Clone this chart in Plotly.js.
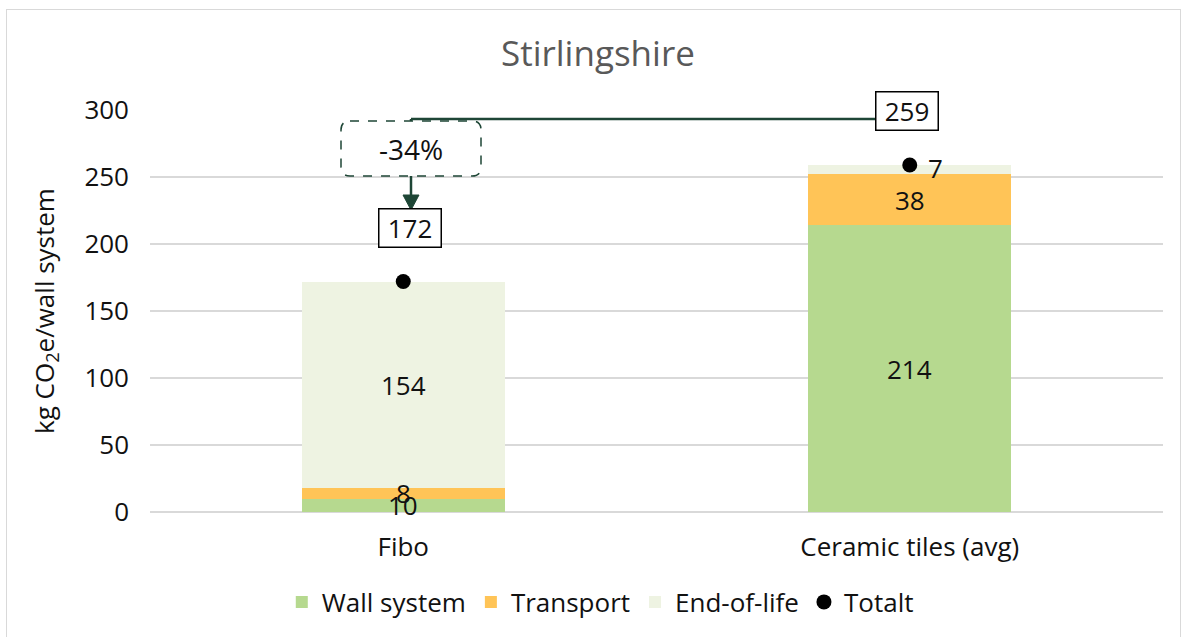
<!DOCTYPE html>
<html>
<head>
<meta charset="utf-8">
<script src="https://cdn.plot.ly/plotly-3.0.1.min.js"></script>
<style>
  html, body { margin: 0; padding: 0; background: #ffffff; }
  #wrap { position: relative; width: 1184px; height: 637px; overflow: hidden; }
  #chart { width: 1184px; height: 637px; }
  #frame { position: absolute; left: 6px; top: 9px; width: 1175px; height: 640px;
           border: 1.5px solid #d9d9d9; pointer-events: none; box-sizing: border-box; }
</style>
</head>
<body>
<div id="wrap">
  <div id="chart"></div>
  <div id="frame"></div>
</div>
<script>
// ---- data ----
const categories = ['Fibo', 'Ceramic tiles (avg)'];
const wallSystem = [10, 214];
const transport = [8, 38];
const endOfLife = [154, 7];
const totals = [172, 259];
const seriesNames = ['Wall system', 'Transport', 'End-of-life', 'Totalt'];
const yTicks = [0, 50, 100, 150, 200, 250, 300];

// ---- style ----
const FONT = '"Open Sans", Lato, sans-serif';
const FS = 26;
const colors = ['#b6d98f', '#ffc457', '#eef3e2'];
const darkGreen = '#1e4636';
const L = 150, T = 110, W = 1013, H = 402;
const px2x = px => (px - L) / W;
const py2y = py => (T + H - py) / H;

const stacks = [wallSystem, transport, endOfLife];
const traces = stacks.map((vals, k) => ({
  type: 'bar', name: seriesNames[k], x: categories, y: vals,
  marker: { color: colors[k], line: { width: 0 } },
  width: 0.4, hoverinfo: 'skip'
}));
traces.push({
  type: 'scatter', mode: 'markers', name: seriesNames[3], x: categories, y: totals,
  marker: { color: '#000000', size: 15, symbol: 'circle' }, hoverinfo: 'skip'
});

// segment labels from data
const annotations = [];
categories.forEach((c, i) => {
  let base = 0;
  stacks.forEach((vals, k) => {
    const v = vals[i];
    const isTopSmall = (k === stacks.length - 1 && v < 15);
    annotations.push({
      x: c, y: base + v / 2, xref: 'x', yref: 'y', text: String(v), showarrow: false,
      xanchor: 'center', yanchor: 'middle',
      xshift: isTopSmall ? 26 : 0, yshift: isTopSmall ? 2 : 0,
      font: { family: FONT, size: FS, color: '#111111' }
    });
    base += v;
  });
  // total boxes
  annotations.push({
    x: c, y: totals[i], xref: 'x', yref: 'y', text: String(totals[i]), showarrow: false,
    xanchor: 'center', yanchor: 'middle',
    yshift: 54, xshift: i === 0 ? 7 : -3,
    width: 55, height: 31, borderpad: 3,
    bgcolor: '#ffffff', bordercolor: '#000000', borderwidth: 1.5,
    font: { family: FONT, size: FS, color: '#111111' }
  });
});
const change = Math.round((totals[0] - totals[1]) / totals[1] * 100);
annotations.push({
  x: px2x(411), y: py2y(149), xref: 'paper', yref: 'paper', text: change + '%',
  xanchor: 'center', yanchor: 'middle',
  showarrow: false, font: { family: FONT, size: 28, color: '#111111' }
});

function roundRect(x0, y0, x1, y1, r) {
  const X = px2x, Y = py2y;
  return `M ${X(x0 + r)} ${Y(y0)} L ${X(x1 - r)} ${Y(y0)} Q ${X(x1)} ${Y(y0)} ${X(x1)} ${Y(y0 + r)} ` +
         `L ${X(x1)} ${Y(y1 - r)} Q ${X(x1)} ${Y(y1)} ${X(x1 - r)} ${Y(y1)} ` +
         `L ${X(x0 + r)} ${Y(y1)} Q ${X(x0)} ${Y(y1)} ${X(x0)} ${Y(y1 - r)} ` +
         `L ${X(x0)} ${Y(y0 + r)} Q ${X(x0)} ${Y(y0)} ${X(x0 + r)} ${Y(y0)} Z`;
}

const shapes = [
  { type: 'line', xref: 'paper', yref: 'paper', x0: px2x(411), x1: px2x(880), y0: py2y(119), y1: py2y(119),
    line: { color: darkGreen, width: 2.5 } },
  { type: 'line', xref: 'paper', yref: 'paper', x0: px2x(411), x1: px2x(411), y0: py2y(119), y1: py2y(198),
    line: { color: darkGreen, width: 2.5 } },
  { type: 'path', xref: 'paper', yref: 'paper',
    path: `M ${px2x(403)} ${py2y(195)} L ${px2x(419)} ${py2y(195)} L ${px2x(411)} ${py2y(210)} Z`,
    fillcolor: darkGreen, line: { color: darkGreen, width: 1 } },
  { type: 'path', xref: 'paper', yref: 'paper', path: roundRect(341, 121, 481, 176, 9),
    fillcolor: '#ffffff', line: { color: darkGreen, width: 1.5, dash: 'dash' } }
];

const layout = {
  width: 1184, height: 637,
  margin: { l: L, r: 1184 - L - W, t: T, b: 637 - T - H },
  paper_bgcolor: '#ffffff', plot_bgcolor: '#ffffff',
  font: { family: FONT, color: '#111111' },
  barmode: 'stack',
  title: { text: 'Stirlingshire', x: 0.505, xref: 'container', xanchor: 'center',
           y: 1 - 54 / 637, yref: 'container', yanchor: 'middle',
           font: { family: FONT, size: 35, color: '#595959' } },
  xaxis: { type: 'category', tickfont: { family: FONT, size: FS, color: '#111111' },
           showgrid: false, showline: false, zeroline: false, ticks: '', ticklabelstandoff: 17,
           fixedrange: true },
  yaxis: { range: [0, 300], tickvals: yTicks, ticktext: yTicks.map(String),
           tickfont: { family: FONT, size: FS, color: '#111111' },
           showgrid: true, gridcolor: '#d9d9d9', gridwidth: 1.5,
           zeroline: true, zerolinecolor: '#d9d9d9', zerolinewidth: 1.5,
           showline: false, ticks: '', ticklabelstandoff: 20, automargin: false,
           title: { text: 'kg CO<sub>2</sub>e/wall system', standoff: 22,
                    font: { family: FONT, size: FS, color: '#111111' } },
           fixedrange: true },
  showlegend: true,
  legend: { orientation: 'h', xref: 'container', x: 0.507, xanchor: 'center',
            yref: 'container', y: 1 - 602 / 637, yanchor: 'middle',
            font: { family: FONT, size: FS, color: '#111111' },
            itemwidth: 30, tracegroupgap: 0, traceorder: 'normal' },
  annotations: annotations,
  shapes: shapes
};

Plotly.newPlot('chart', traces, layout, { displayModeBar: false, staticPlot: true });
</script>
</body>
</html>
